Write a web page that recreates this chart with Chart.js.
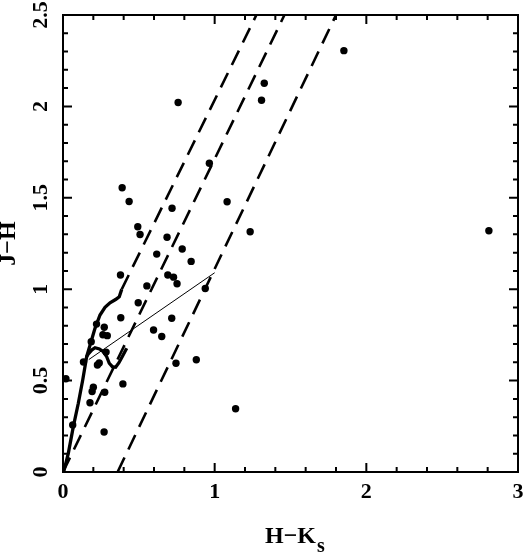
<!DOCTYPE html>
<html>
<head>
<meta charset="utf-8">
<script src="https://cdn.jsdelivr.net/npm/chart.js@4.4.1/dist/chart.umd.min.js"></script>
<style>
  html, body { margin: 0; padding: 0; background: #fff; }
</style>
</head>
<body>
<canvas id="myChart" width="527" height="554"></canvas>
<script>
// observed stars (H-Ks, J-H)
const starHK = [1.852, 1.327, 1.309, 0.759, 0.965, 0.390, 0.436, 0.719, 1.082, 0.493, 0.508,
  0.686, 1.234, 2.808, 0.786, 0.618, 0.845, 0.379, 0.691, 0.729, 0.752, 0.553, 0.938, 0.496,
  0.381, 0.717, 0.221, 0.272, 0.597, 0.263, 0.292, 0.651, 0.186, 0.284, 0.135, 0.879, 0.745,
  0.239, 0.227, 0.019, 0.395, 0.200, 0.192, 0.275, 0.178, 1.138, 0.064, 0.271];
const starJH = [2.305, 2.127, 2.034, 2.021, 1.689, 1.555, 1.480, 1.443, 1.478, 1.342, 1.299,
  1.284, 1.314, 1.320, 1.220, 1.192, 1.152, 1.078, 1.078, 1.066, 1.030, 1.018, 1.004, 0.926,
  0.844, 0.841, 0.809, 0.792, 0.777, 0.751, 0.746, 0.741, 0.713, 0.656, 0.602, 0.614, 0.595,
  0.596, 0.585, 0.510, 0.482, 0.464, 0.440, 0.436, 0.379, 0.346, 0.257, 0.219];

// giant branch (thick)
const giantHK = [0.004, 0.035, 0.068, 0.101, 0.130, 0.156, 0.182, 0.211, 0.244, 0.277, 0.310, 0.349, 0.371, 0.387];
const giantJH = [0.000, 0.102, 0.248, 0.376, 0.503, 0.631, 0.704, 0.786, 0.859, 0.901, 0.926, 0.945, 0.959, 0.999];

// dwarf branch (thick)
const dwarfHK = [0.156, 0.167, 0.189, 0.211, 0.240, 0.266, 0.288, 0.305, 0.325, 0.347, 0.369, 0.393, 0.420];
const dwarfJH = [0.631, 0.646, 0.667, 0.680, 0.673, 0.658, 0.631, 0.595, 0.576, 0.573, 0.598, 0.635, 0.677];

// CTTS locus (thin)
const cttsHK = [0.170, 1.000];
const cttsJH = [0.615, 1.090];

// reddening bands (dashed)
const redLeftHK = [0.387, 1.275];
const redLeftJH = [0.999, 2.500];
const redMidHK = [0.000, 1.460];
const redMidJH = [0.000, 2.500];
const redRightHK = [0.360, 1.800];
const redRightJH = [0.000, 2.500];

// tick labels
const xTicks = [0, 1, 2, 3];
const yTicks = [0, 0.5, 1, 1.5, 2, 2.5];

const pts = (xs, ys) => xs.map((v, i) => ({ x: v, y: ys[i] }));

const lineSet = (xs, ys, width, dash) => ({
  type: 'line',
  data: pts(xs, ys),
  showLine: true,
  borderColor: '#000',
  borderWidth: width,
  borderDash: dash,
  pointRadius: 0,
  tension: 0,
  fill: false,
});

// inward ticks on all four sides + the box
const frameTicks = {
  id: 'frameTicks',
  afterDatasetsDraw(chart) {
    const { ctx, chartArea: a, scales: { x, y } } = chart;
    ctx.save();
    ctx.strokeStyle = '#000';
    ctx.lineWidth = 2;
    ctx.beginPath();
    for (let i = 0; i <= 15; i++) {
      const px = x.getPixelForValue(i * 0.2);
      const len = i % 5 === 0 ? 9 : 5;
      ctx.moveTo(px, a.bottom); ctx.lineTo(px, a.bottom - len);
      ctx.moveTo(px, a.top); ctx.lineTo(px, a.top + len);
    }
    for (let i = 0; i <= 25; i++) {
      const py = y.getPixelForValue(i * 0.1);
      const len = i % 5 === 0 ? 9 : 5;
      ctx.moveTo(a.left, py); ctx.lineTo(a.left + len, py);
      ctx.moveTo(a.right, py); ctx.lineTo(a.right - len, py);
    }
    ctx.stroke();
    ctx.strokeRect(a.left, a.top, a.right - a.left, a.bottom - a.top);
    ctx.restore();
  },
  afterDraw(chart) {
    // subscript s of the x title
    const { ctx, chartArea: a } = chart;
    ctx.save();
    ctx.font = 'bold 24px "Liberation Serif"';
    const w = ctx.measureText('H\u2212K').width;
    ctx.font = 'bold 20px "Liberation Serif"';
    ctx.fillStyle = '#000';
    ctx.textBaseline = 'alphabetic';
    ctx.fillText('s', (a.left + a.right) / 2 + w / 2 + 1, 552);
    ctx.restore();
  }
};

new Chart(document.getElementById('myChart'), {
  type: 'scatter',
  data: {
    datasets: [
      {
        data: pts(starHK, starJH),
        backgroundColor: '#000',
        borderColor: '#000',
        pointRadius: 3.7,
        pointBorderWidth: 0,
      },
      lineSet(giantHK, giantJH, 3.3, []),
      lineSet(dwarfHK, dwarfJH, 3.3, []),
      lineSet(cttsHK, cttsJH, 1, []),
      lineSet(redLeftHK, redLeftJH, 2.6, [16, 9]),
      lineSet(redMidHK, redMidJH, 2.6, [16, 9]),
      lineSet(redRightHK, redRightJH, 2.6, [16, 9]),
    ],
  },
  options: {
    responsive: false,
    animation: false,
    devicePixelRatio: 1,
    layout: { padding: { left: 0, right: 9, top: 15, bottom: 0 } },
    plugins: { legend: { display: false }, tooltip: { enabled: false } },
    scales: {
      x: {
        type: 'linear',
        min: 0,
        max: 3,
        afterBuildTicks: (s) => { s.ticks = xTicks.map((v) => ({ value: v })); },
        afterFit: (s) => { s.height = 82; s.paddingLeft = 0; s.paddingRight = 0; },
        grid: { display: false, drawTicks: false },
        border: { display: false },
        ticks: {
          color: '#000',
          padding: 7,
          callback: (v) => String(v),
          font: { family: '"Liberation Serif"', size: 22, weight: 'bold' },
        },
        title: {
          display: true,
          text: 'H\u2212K',
          color: '#000',
          padding: { top: 0, bottom: 5 },
          font: { family: '"Liberation Serif"', size: 24, weight: 'bold', lineHeight: 1 },
        },
      },
      y: {
        type: 'linear',
        min: 0,
        max: 2.5,
        afterBuildTicks: (s) => { s.ticks = yTicks.map((v) => ({ value: v })); },
        afterFit: (s) => { s.width = 63; s.paddingTop = 0; s.paddingBottom = 0; },
        grid: { display: false, drawTicks: false },
        border: { display: false },
        ticks: {
          color: '#000',
          padding: 8,
          minRotation: 90,
          maxRotation: 90,
          crossAlign: 'center',
          callback: (v) => String(v),
          font: { family: '"Liberation Serif"', size: 22, weight: 'bold' },
        },
        title: {
          display: true,
          text: 'J\u2212H',
          color: '#000',
          padding: 0,
          font: { family: '"Liberation Serif"', size: 24, weight: 'bold', lineHeight: 0.75 },
        },
      },
    },
  },
  plugins: [frameTicks],
});
</script>
</body>
</html>
